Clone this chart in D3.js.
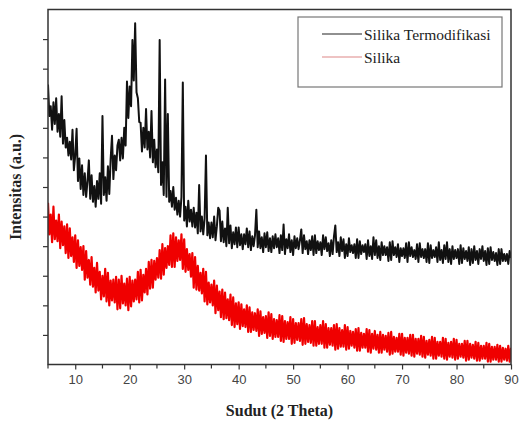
<!DOCTYPE html>
<html>
<head>
<meta charset="utf-8">
<script src="https://cdn.jsdelivr.net/npm/d3@7"></script>
<style>
  body { margin: 0; background: #fff; }
  #chart svg { display: block; }
  .tick text { font-family: "Liberation Sans", Arial, sans-serif; font-size: 13px; fill: #444; }
  .title { font-family: "Liberation Serif", "Times New Roman", serif; font-weight: bold; font-size: 16px; fill: #222; }
  .legend text { font-family: "Liberation Serif", "Times New Roman", serif; font-size: 15.5px; fill: #222; }
</style>
</head>
<body>
<div id="chart"></div>
<script>
// 2 theta sampling of both scans
const angleStart = 5
const angleStep = 0.25
const seriesNames = ['Silika Termodifikasi', 'Silika']
const seriesColors = ['#111', '#f00000']
const xTicks = [10, 20, 30, 40, 50, 60, 70, 80, 90]

// intensitas (a.u.), one group of 4 per degree
const termodifikasi = [
  284,252,262,238, 266,244,270,236, 254,231,272,224, 248,220,230,212, 226,208,238,197,
  212,239,186,209, 178,202,172,194, 170,186,207,168, 192,165,181,160, 186,168,194,163,
  252,172,190,166, 201,173,208,232, 188,212,197,222, 228,207,230,209, 240,222,287,250,
  282,262,329,288, 346,276,270,246, 245,216,240,220, 259,218,236,210, 257,205,228,200,
  218,195,329,182, 205,172,289,170, 254,165,176,160, 180,157,169,152, 166,150,170,286,
  146,160,140,166, 145,157,140,159, 139,154,133,182, 135,150,132,148, 212,131,144,128,
  144,129,150,126, 140,159,156,125, 145,124,138,120, 159,123,141,118, 134,122,139,119,
  139,121,132,117, 132,122,138,119, 135,116,130,120, 131,157,119,135, 118,129,114,133,
  119,134,115,128, 114,130,118,132, 119,128,113,131, 116,142,112,127, 118,132,114,126,
  111,130,118,128, 117,126,137,113, 131,117,125,112, 126,116,130,111, 131,113,125,116,
  124,111,131,117, 129,115,123,110, 126,112,130,141, 114,124,110,129, 115,127,108,122,
  110,128,114,121, 113,122,108,127, 108,125,112,121, 114,122,107,126, 110,120,107,129,
  111,126,108,120, 106,124,111,120, 111,119,105,124, 106,125,111,119, 109,122,104,118,
  110,118,108,123, 104,124,110,119, 109,116,107,122, 104,123,109,117, 108,117,104,123,
  103,121,108,116, 109,119,104,124, 106,116,103,121, 107,124,104,117, 102,120,107,116,
  108,117,102,121, 103,118,107,115, 105,119,101,117, 103,120,106,115, 102,117,107,120,
  105,115,101,118, 102,119,106,114, 105,113,101,117, 102,117,105,112, 105,112,102,115,
  108
]
const silika = [
  164,132,152,124, 160,127,146,125, 152,118,145,121, 140,113,142,108, 138,110,129,104,
  131,98,126,100, 119,96,120,86, 115,88,106,81, 109,79,98,73, 103,75,94,66,
  90,69,97,64, 93,60,85,65, 86,63,89,56, 86,57,90,62, 82,60,87,55,
  89,59,85,64, 86,66,94,63, 96,65,91,73, 97,71,104,77, 106,78,105,86,
  108,88,116,87, 122,91,118,98, 120,101,131,99, 133,99,129,105, 126,106,132,97,
  127,94,117,96, 112,89,113,78, 109,76,100,75, 93,72,97,64, 94,61,83,63,
  81,60,85,52, 80,55,74,48, 76,46,73,47, 66,45,71,40, 68,38,62,41,
  63,36,61,39, 56,38,60,33, 58,33,53,35, 52,34,56,29, 54,31,48,32,
  49,27,53,29, 51,26,46,28, 45,28,50,24, 49,23,44,26, 43,26,48,21,
  46,22,42,25, 42,24,46,20, 47,21,41,23, 40,22,44,19, 44,19,38,21,
  40,21,44,17, 41,17,37,20, 37,19,40,15, 41,16,37,18, 35,18,40,15,
  38,16,34,19, 33,17,36,14, 37,14,32,17, 31,17,36,13, 35,12,31,16,
  34,15,30,12, 33,12,30,15, 29,13,32,10, 33,11,28,13, 27,13,31,10,
  31,9,27,12, 27,11,30,9, 30,8,26,11, 26,10,29,8, 28,7,24,10,
  25,9,28,6, 27,6,23,9, 23,8,27,6, 26,5,22,8, 23,7,26,5,
  25,6,21,8, 21,7,24,4, 24,5,21,7, 20,6,23,4, 22,4,19,6,
  19,6,22,3, 21,3,18,5, 18,5,20,3, 19,3,17,5, 16,4,19,3,
  17
]

const W = 519, H = 423
const margin = {top: 9.5, right: 8, bottom: 58.5, left: 48}
const width = W - margin.left - margin.right
const height = H - margin.top - margin.bottom

const x = d3.scaleLinear().domain([5, 90]).range([0, width])
const y = d3.scaleLinear().domain([0, 360]).range([height, 0])

const svg = d3.select('#chart').append('svg')
  .attr('width', W).attr('height', H)
  .append('g').attr('transform', 'translate(' + [margin.left, margin.top] + ')')

svg.append('clipPath').attr('id', 'plot-clip')
  .append('rect').attr('width', width).attr('height', height)

const line = d3.line()
  .x((d, i) => x(angleStart + i * angleStep))
  .y(d => y(d))

const series = [termodifikasi, silika]
// red under black, same as the picture
svg.append('g').attr('clip-path', 'url(#plot-clip)')
  .selectAll('path')
  .data([1, 0])
  .enter().append('path')
  .attr('d', k => line(series[k]))
  .attr('fill', 'none')
  .attr('stroke', k => seriesColors[k])
  .attr('stroke-width', k => k == 1 ? 2.2 : 2)
  .attr('stroke-linejoin', 'round')

// frame
svg.append('rect')
  .attr('width', width).attr('height', height)
  .attr('fill', 'none').attr('stroke', '#333').attr('stroke-width', 1.5)

const xAxis = d3.axisBottom(x).tickValues(xTicks).tickSize(5).tickPadding(5).tickFormat(d3.format('d'))
const gx = svg.append('g').attr('transform', 'translate(0,' + height + ')').call(xAxis)
gx.append('g').selectAll('line')
  .data(d3.range(5, 90, 10))
  .enter().append('line')
  .attr('x1', d => x(d)).attr('x2', d => x(d))
  .attr('y1', 0).attr('y2', 4)
  .attr('stroke', '#333').attr('stroke-width', 1.2)

const yAxis = d3.axisLeft(y).tickValues(d3.range(30, 360, 30)).tickSize(5).tickFormat('')
const gy = svg.append('g').call(yAxis)

svg.selectAll('.domain').remove()
svg.selectAll('.tick line').attr('stroke', '#333').attr('stroke-width', 1.2)

svg.append('text').attr('class', 'title')
  .attr('x', width / 2).attr('y', height + 51)
  .attr('text-anchor', 'middle')
  .text('Sudut (2 Theta)')

svg.append('text').attr('class', 'title')
  .attr('transform', 'translate(-27,' + (height / 2) + ') rotate(-90)')
  .attr('text-anchor', 'middle')
  .text('Intensitas (a.u.)')

// legend
const legend = svg.append('g').attr('class', 'legend').attr('transform', 'translate(250,7.5)')
legend.append('rect')
  .attr('width', 204).attr('height', 70)
  .attr('fill', '#fff').attr('stroke', '#777').attr('stroke-width', 1.2)
const items = legend.selectAll('.item')
  .data(seriesNames)
  .enter().append('g').attr('class', 'item')
  .attr('transform', (d, i) => 'translate(24,' + (17 + i * 23) + ')')
items.append('line')
  .attr('x1', 0).attr('x2', 40)
  .attr('stroke', (d, i) => i == 1 ? '#d88' : '#222').attr('stroke-width', 1.2)
items.append('text')
  .attr('x', 42).attr('y', 6)
  .text(d => d)
</script>
</body>
</html>
